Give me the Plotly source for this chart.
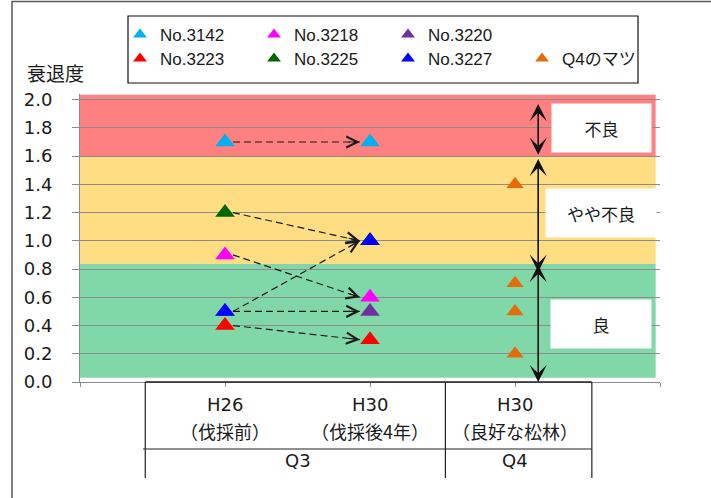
import plotly.graph_objects as go

# ---------------- data ----------------
cat_labels = ["H26", "H30", "H30"]
cat_sub = ["（伐採前）", "（伐採後4年）", "（良好な松林）"]
cat_pos = [1, 2, 3]
group_labels = ["Q3", "Q4"]
group_pos = [1.5, 3]
group_dividers = [0.45, 2.52, 3.53]

tree_names = ["No.3142", "No.3218", "No.3220", "No.3223", "No.3225", "No.3227"]
tree_colors = ["#00B0F0", "#FF00FF", "#7030A0", "#FF0000", "#006600", "#0000FF"]
h26_values = [1.7, 0.9, 0.5, 0.4, 1.2, 0.5]
h30_values = [1.7, 0.6, 0.5, 0.3, 1.0, 1.0]

q4_name = "Q4のマツ"
q4_color = "#E46C0A"
q4_values = [1.4, 0.7, 0.5, 0.2]

band_labels = ["良", "やや不良", "不良"]
band_lo = [0.03, 0.835, 1.6]
band_hi = [0.835, 1.6, 2.035]
band_colors = ["#80D8A8", "#FFDD82", "#FF8080"]
band_label_y = [0.41, 1.2, 1.8]
band_label_w = [100, 110, 99]

arrow_lo = [0.0, 0.78, 1.61]
arrow_hi = [0.84, 1.59, 1.98]

y_ticks = [0.0, 0.2, 0.4, 0.6, 0.8, 1.0, 1.2, 1.4, 1.6, 1.8, 2.0]

# ---------------- layout geometry ----------------
W, H = 711, 498
ML, MR, MT, MB = 80, 51, 94, 116
PW, PH = W - ML - MR, H - MT - MB
AX_BOTTOM = H - MB


def xp(px):
    return (px - ML) / PW


def yp(py):
    return (AX_BOTTOM - py) / PH


FONT = "Liberation Sans, Noto Sans CJK JP, sans-serif"
WFONT = "DejaVu Sans, Noto Sans CJK JP, sans-serif"
JFONT = "Noto Sans CJK JP, sans-serif"
TXT = "#1a1a1a"
GRID = "#8c8c8c"

fig = go.Figure()

# dashed connector lines
x_start = cat_pos[0] + 0.055
x_end = cat_pos[1] - 0.07
lx, ly = [], []
for a, b in zip(h26_values, h30_values):
    lx += [x_start, x_end, None]
    ly += [a, b, None]
fig.add_trace(go.Scatter(x=lx, y=ly, mode="lines", showlegend=False, hoverinfo="skip",
                         line=dict(color=TXT, width=1.2, dash="7px,4px")))

for i, (name, color, a, b) in enumerate(zip(tree_names, tree_colors, h26_values, h30_values)):
    fig.add_trace(go.Scatter(
        x=[cat_pos[0], cat_pos[1]], y=[a, b], mode="markers", name=name,
        marker=dict(symbol="triangle-up", size=17, color=color, line=dict(width=0)),
        legend="legend" if i < 3 else "legend2"))

fig.add_trace(go.Scatter(
    x=[cat_pos[2]] * len(q4_values), y=q4_values, mode="markers", name=q4_name,
    marker=dict(symbol="triangle-up", size=15, color=q4_color, line=dict(width=0)),
    legend="legend2"))

shapes = []
for lo, hi, c in zip(band_lo, band_hi, band_colors):
    shapes.append(dict(type="rect", xref="x", yref="y", x0=0, x1=3.97, y0=lo, y1=hi,
                       fillcolor=c, line=dict(width=0), layer="below"))

# category box lines
for d in group_dividers:
    shapes.append(dict(type="line", xref="x", yref="paper", x0=d, x1=d, y0=0, y1=yp(478),
                       line=dict(color="#222", width=1.2)))
shapes.append(dict(type="line", xref="x", yref="paper", x0=group_dividers[0], x1=group_dividers[-1],
                   y0=0, y1=0, line=dict(color="#222", width=1.5)))
shapes.append(dict(type="line", xref="x", yref="paper", x0=group_dividers[0] - 0.015, x1=group_dividers[-1],
                   y0=yp(449), y1=yp(449), line=dict(color="#222", width=1.2)))

# outer frame and legend box
shapes.append(dict(type="rect", xref="paper", yref="paper", x0=xp(12), x1=xp(760), y0=yp(1.5), y1=yp(540),
                   line=dict(color="#595959", width=1.5)))
shapes.append(dict(type="rect", xref="paper", yref="paper", x0=xp(128), x1=xp(638), y0=yp(16), y1=yp(83),
                   line=dict(color="#111", width=1.2), fillcolor="white", layer="below"))

annotations = []
# arrow heads of connectors
for a, b in zip(h26_values, h30_values):
    annotations.append(dict(x=x_end, y=b, xref="x", yref="y", axref="x", ayref="y",
                            ax=x_end - 0.1 * (x_end - x_start), ay=b - 0.1 * (b - a),
                            text="", showarrow=True, arrowhead=5, arrowsize=2.0, arrowwidth=1.1,
                            arrowcolor=TXT, standoff=0))
# vertical double arrows
for lo, hi in zip(arrow_lo, arrow_hi):
    annotations.append(dict(x=3.16, y=lo, xref="x", yref="y", axref="x", ayref="y", ax=3.16, ay=hi,
                            text="", showarrow=True, arrowhead=3, startarrowhead=3, arrowside="end+start",
                            arrowsize=1.8, startarrowsize=1.8, arrowwidth=1.6, arrowcolor="#111",
                            standoff=0, startstandoff=0))
# band labels
for lab, y, w in zip(band_labels, band_label_y, band_label_w):
    annotations.append(dict(x=3.595, y=y, xref="x", yref="y", text=lab, showarrow=False,
                            xanchor="center", yanchor="middle",
                            bgcolor="white", width=w, height=48, borderpad=0,
                            font=dict(family=JFONT, size=17, color=TXT)))
# category labels
for lab, sub, cx in zip(cat_labels, cat_sub, cat_pos):
    annotations.append(dict(x=cx, y=yp(404), xref="x", yref="paper", text=lab, showarrow=False,
                            xanchor="center", yanchor="middle", font=dict(family=WFONT, size=18, color=TXT)))
    annotations.append(dict(x=cx, y=yp(431), xref="x", yref="paper", text=sub, showarrow=False,
                            xanchor="center", yanchor="middle", font=dict(family=JFONT, size=18, color=TXT)))
# group labels
for lab, gx in zip(group_labels, group_pos):
    annotations.append(dict(x=gx, y=yp(460), xref="x", yref="paper", text=lab, showarrow=False,
                            xanchor="center", yanchor="middle", font=dict(family=WFONT, size=18, color=TXT)))
# y title
annotations.append(dict(x=xp(55), y=yp(72), xref="paper", yref="paper", text="衰退度", showarrow=False,
                        xanchor="center", yanchor="middle",
                        font=dict(family=JFONT, size=19, color=TXT)))

legend_common = dict(orientation="h", xanchor="left", yanchor="middle", bgcolor="rgba(0,0,0,0)",
                     borderwidth=0, itemsizing="constant", entrywidth=89, entrywidthmode="pixels",
                     font=dict(family=FONT, size=17, color=TXT), itemclick=False)

fig.update_layout(
    width=W, height=H,
    margin=dict(l=ML, r=MR, t=MT, b=MB, autoexpand=False),
    paper_bgcolor="white", plot_bgcolor="white",
    showlegend=True,
    legend=dict(x=xp(120), y=yp(35), **legend_common),
    legend2=dict(x=xp(120), y=yp(59), **legend_common),
    xaxis=dict(range=[0, 4], tickvals=[0] + cat_pos + [4], showticklabels=False,
               ticks="outside", ticklen=4, tickcolor=GRID, showline=True, linecolor=GRID, linewidth=1,
               showgrid=False, zeroline=False),
    yaxis=dict(range=[0, 2.04], tickvals=y_ticks, tickformat=".1f",
               ticks="outside", ticklen=7, tickcolor=GRID, showline=True, linecolor=GRID, linewidth=1,
               showgrid=True, gridcolor=GRID, gridwidth=1, zeroline=False, ticklabelstandoff=16,
               tickfont=dict(family=WFONT, size=18, color=TXT)),
    shapes=shapes, annotations=annotations,
)

fig.write_html("out.html", config={"displayModeBar": False},
               post_script="document.body.style.margin='0px';")
